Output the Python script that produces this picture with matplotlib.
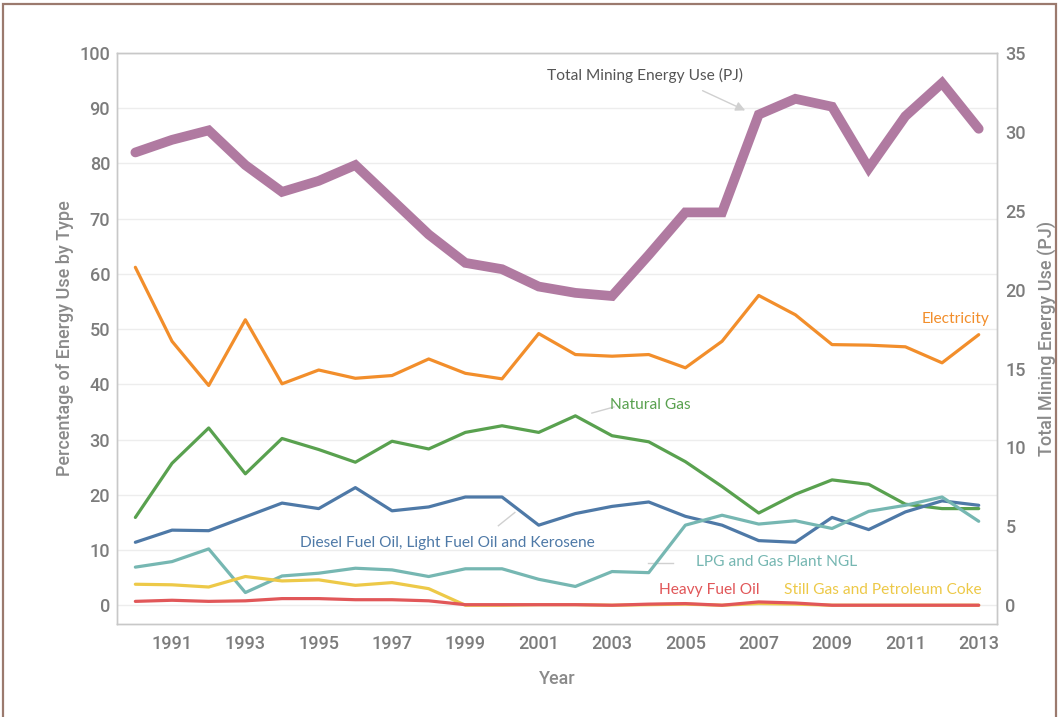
import matplotlib
matplotlib.use('Agg')
import matplotlib.pyplot as plt
from matplotlib.patches import Rectangle

# ── Data ───────────────────────────────────────────────────────────
years = list(range(1990, 2014))

total_pj = [28.7, 29.5, 30.1, 27.9, 26.2, 26.9, 27.9, 25.7, 23.5, 21.7,
            21.3, 20.2, 19.8, 19.6, 22.2, 24.9, 24.9, 31.1, 32.1, 31.6,
            27.7, 31.0, 33.1, 30.2]

electricity = [61.2, 47.8, 39.8, 51.7, 40.1, 42.6, 41.1, 41.6, 44.6, 42.0,
               41.0, 49.2, 45.4, 45.1, 45.4, 43.0, 47.8, 56.1, 52.6, 47.2,
               47.1, 46.8, 43.9, 49.0]

natural_gas = [15.9, 25.7, 32.1, 23.8, 30.2, 28.2, 25.9, 29.7, 28.3, 31.3,
               32.5, 31.3, 34.3, 30.7, 29.6, 26.0, 21.5, 16.7, 20.1, 22.7,
               21.9, 18.3, 17.5, 17.5]

diesel = [11.4, 13.6, 13.5, 16.0, 18.5, 17.5, 21.3, 17.1, 17.8, 19.6,
          19.6, 14.5, 16.6, 17.9, 18.7, 16.1, 14.5, 11.7, 11.4, 15.9,
          13.7, 16.9, 18.9, 18.1]

lpg = [6.9, 7.9, 10.2, 2.3, 5.3, 5.8, 6.7, 6.4, 5.2, 6.6,
       6.6, 4.7, 3.4, 6.1, 5.9, 14.5, 16.3, 14.7, 15.3, 13.9,
       17.0, 18.1, 19.6, 15.2]

still_gas = [3.8, 3.7, 3.3, 5.2, 4.4, 4.6, 3.6, 4.1, 3.0, 0.0,
             0.0, 0.1, 0.1, 0.0, 0.1, 0.2, 0.0, 0.3, 0.2, 0.0,
             0.0, 0.0, 0.0, 0.0]

heavy_fuel = [0.7, 0.9, 0.7, 0.8, 1.2, 1.2, 1.0, 1.0, 0.8, 0.1,
              0.1, 0.1, 0.1, 0.0, 0.2, 0.3, 0.0, 0.6, 0.4, 0.0,
              0.0, 0.0, 0.0, 0.0]

# ── Style ──────────────────────────────────────────────────────────
COLORS = {
    'total':       '#b07aa1',
    'electricity': '#f28e2b',
    'gas':         '#59a14f',
    'diesel':      '#4e79a7',
    'lpg':         '#76b7b2',
    'still':       '#edc948',
    'heavy':       '#e15759',
    'tick':        '#7c7c7c',
    'grid':        '#ededed',
    'spine':       '#c8c8c8',
    'frame':       '#9b7a6e',
}

TICK_FONT = ['Roboto', 'DejaVu Sans']
NOTE_FONT = ['Lato', 'DejaVu Sans']

fig = plt.figure(figsize=(10.59, 7.17), dpi=100)
fig.patch.set_facecolor('white')

ax = fig.add_axes([0.1105, 0.1297, 0.831, 0.7963])
ax2 = ax.twinx()

ax.set_xlim(1989.5, 2013.5)
ax.set_ylim(-3.4, 100)
ax2.set_ylim(-3.4 * 0.35, 35)

# percentage series on the left axis
pct_series = [
    (electricity, COLORS['electricity']),
    (natural_gas, COLORS['gas']),
    (diesel, COLORS['diesel']),
    (lpg, COLORS['lpg']),
    (still_gas, COLORS['still']),
    (heavy_fuel, COLORS['heavy']),
]
for vals, c in pct_series:
    ax.plot(years, vals, color=c, linewidth=2.3, solid_joinstyle='round',
            solid_capstyle='round', zorder=3)

# total energy on the right axis
ax2.plot(years, total_pj, color=COLORS['total'], linewidth=7,
         solid_joinstyle='miter', solid_capstyle='round', zorder=4)

# grid + spines
ax.set_yticks(range(0, 101, 10))
ax2.set_yticks(range(0, 36, 5))
ax.set_xticks(range(1991, 2014, 2))
ax.grid(axis='y', color=COLORS['grid'], linewidth=1)
ax.grid(axis='x', visible=False)
ax.set_axisbelow(True)
for a in (ax, ax2):
    for s in a.spines.values():
        s.set_color(COLORS['spine'])
        s.set_linewidth(1)
    a.tick_params(length=0, colors=COLORS['tick'], labelsize=13)
    for lab in a.get_yticklabels() + a.get_xticklabels():
        lab.set_family(TICK_FONT)
        lab.set_fontweight('medium')
ax.tick_params(axis='y', pad=5)
ax2.tick_params(axis='y', pad=6)
ax.tick_params(axis='x', pad=8)

ax.set_ylabel('Percentage of Energy Use by Type', fontsize=13,
              family=TICK_FONT, color='#8a8a8a', fontweight='medium',
              labelpad=4)
ax2.set_ylabel('Total Mining Energy Use (PJ)', fontsize=13,
               family=TICK_FONT, color='#8a8a8a', fontweight='medium',
               labelpad=9)
ax.set_xlabel('Year', fontsize=13, family=TICK_FONT, color='#8a8a8a',
              fontweight='medium', labelpad=12)

# ── Series labels ──────────────────────────────────────────────────
note_kw = dict(fontsize=11.2, family=NOTE_FONT, fontweight='normal',
               va='center', zorder=6)
lead_kw = dict(color='#d0d0d0', linewidth=1, zorder=2)

ax.text(2003.9, 95.9, 'Total Mining Energy Use (PJ)', ha='center',
        color='#555555', **note_kw)
ax.annotate('', xy=(2006.7, 89.4), xytext=(2005.4, 93.4),
            arrowprops=dict(arrowstyle='-|>', color='#d0d0d0', lw=1,
                            mutation_scale=14), zorder=6)

ax.text(2013.3, 51.9, 'Electricity', ha='right',
        color=COLORS['electricity'], **note_kw)

ax.text(2002.95, 36.3, 'Natural Gas', ha='left', color=COLORS['gas'],
        **note_kw)
ax.plot([2002.45, 2003.05], [34.8, 35.9], **lead_kw)

ax.text(1994.48, 11.3, 'Diesel Fuel Oil, Light Fuel Oil and Kerosene',
        ha='left', color=COLORS['diesel'], **note_kw)
ax.plot([1999.9, 2000.35], [14.4, 16.8], **lead_kw)

ax.text(2005.3, 7.9, 'LPG and Gas Plant NGL', ha='left',
        color=COLORS['lpg'], **note_kw)
ax.plot([2003.98, 2004.67], [7.6, 7.6], **lead_kw)

ax.text(2004.29, 2.8, 'Heavy Fuel Oil', ha='left', color=COLORS['heavy'],
        **note_kw)
ax.text(2007.7, 2.8, 'Still Gas and Petroleum Coke', ha='left',
        color=COLORS['still'], **note_kw)

# outer frame
fig.patches.append(Rectangle((0.003, -0.02), 0.994, 1.014,
                             transform=fig.transFigure, fill=False,
                             edgecolor=COLORS['frame'], linewidth=1.6))

fig.savefig('out.png', dpi=100, facecolor=fig.get_facecolor())
